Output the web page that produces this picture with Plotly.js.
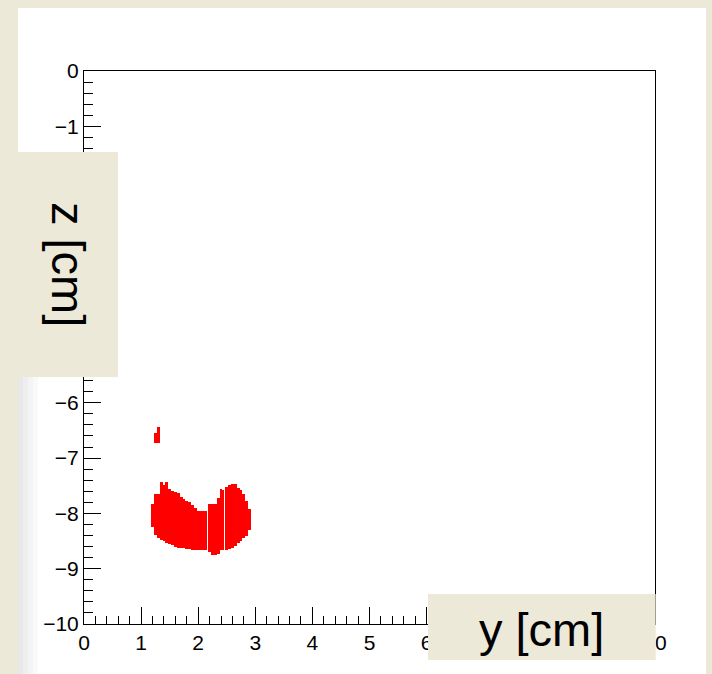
<!DOCTYPE html>
<html>
<head>
<meta charset="utf-8">
<script src="https://cdn.plot.ly/plotly-3.0.1.min.js"></script>
<style>html,body{margin:0;padding:0;background:#ECE9D8;}#plot{width:712px;height:674px;}</style>
</head>
<body>
<div id="plot"></div>
<script>
// 2D distribution (y, z) in cm : column bins of width 0.05 cm
var yBins = [1.20, 1.25, 1.30, 1.35, 1.40, 1.45, 1.50, 1.55, 1.60, 1.65, 1.70, 1.75,
             1.80, 1.85, 1.90, 1.95, 2.00, 2.05, 2.10, 2.15, 2.20, 2.25, 2.30, 2.35,
             2.40, 2.45, 2.50, 2.55, 2.60, 2.65, 2.70, 2.75, 2.80, 2.85, 2.90];
var zTop = [-7.83, -7.65, -7.65, -7.43, -7.49, -7.43, -7.56, -7.60, -7.61, -7.63, -7.70, -7.74,
            -7.78, -7.79, -7.85, -7.90, -7.96, -7.96, -7.96, -7.96, -7.83, -7.83, -7.83, -7.72,
            -7.56, -7.58, -7.52, -7.49, -7.47, -7.47, -7.54, -7.58, -7.65, -7.78, -7.92];
var zBottom = [-8.25, -8.39, -8.45, -8.48, -8.50, -8.54, -8.55, -8.57, -8.61, -8.63, -8.63, -8.63,
               -8.64, -8.64, -8.66, -8.66, -8.66, -8.66, -8.66, -8.66, -8.70, -8.75, -8.75, -8.73,
               -8.66, -8.66, -8.66, -8.64, -8.63, -8.59, -8.54, -8.50, -8.45, -8.41, -8.30];
// small isolated cluster
var spotY = [1.25, 1.30];
var spotTop = [-6.55, -6.44];
var spotBottom = [-6.73, -6.73];
// bins followed by a thin white seam
var seamAfter = [2.15, 2.45];

var xTicks = [0, 1, 2, 3, 4, 5, 6, 7, 8, 9, 10];
var zTicks = [0, -1, -2, -3, -4, -5, -6, -7, -8, -9, -10];

var BEIGE = '#ECE9D8';
var FONT = "'Liberation Sans', Arial, Helvetica, sans-serif";
var binW = 0.05;

function colTrace(xs, tops, bots, widths) {
  return {
    type: 'bar',
    x: xs,
    base: bots,
    y: tops.map(function (t, i) { return t - bots[i]; }),
    width: widths,
    offset: -binW / 2,
    marker: { color: '#ff0000', line: { width: 0 } },
    hoverinfo: 'skip',
    showlegend: false
  };
}

var mainWidths = yBins.map(function (v) {
  return seamAfter.some(function (s) { return Math.abs(s - v) < 1e-6; }) ? binW - 0.018 : binW;
});
var spotWidths = spotY.map(function () { return binW; });

var data = [
  colTrace(yBins, zTop, zBottom, mainWidths),
  colTrace(spotY, spotTop, spotBottom, spotWidths)
];

var axisCommon = {
  showgrid: false,
  zeroline: false,
  showline: true,
  linecolor: '#000',
  linewidth: 1,
  mirror: true,
  ticks: 'inside',
  tickcolor: '#000',
  tickwidth: 1,
  tickmode: 'array',
  tickfont: { family: FONT, size: 21, color: '#000' },
  fixedrange: true
};

var layout = {
  width: 712,
  height: 674,
  margin: { l: 84, r: 57, t: 71, b: 50, pad: 0 },
  paper_bgcolor: BEIGE,
  plot_bgcolor: 'rgba(0,0,0,0)',
  barmode: 'overlay',
  bargap: 0,
  showlegend: false,
  xaxis: Object.assign({}, axisCommon, {
    range: [0, 10],
    tickvals: xTicks,
    ticktext: xTicks.map(String),
    ticklen: 17,
    minor: { ticks: 'inside', dtick: 0.2, tick0: 0, ticklen: 8, tickcolor: '#000', tickwidth: 1, showgrid: false }
  }),
  yaxis: Object.assign({}, axisCommon, {
    range: [-10, 0],
    tickvals: zTicks,
    ticklen: 17,
    minor: { ticks: 'inside', dtick: 0.2, tick0: 0, ticklen: 9, tickcolor: '#000', tickwidth: 1, showgrid: false }
  }),
  shapes: [
    // white canvas
    { type: 'rect', xref: 'paper', yref: 'paper', x0: -0.1156, x1: 1.0893, y0: -0.12, y1: 1.1139,
      fillcolor: '#ffffff', line: { width: 0 }, layer: 'below' },
    // soft shading at lower left edge of canvas
    { type: 'rect', xref: 'paper', yref: 'paper', x0: -0.1156, x1: -0.1068, y0: -0.12, y1: 0.4466,
      fillcolor: '#e8e8e8', line: { width: 0 }, layer: 'below' },
    { type: 'rect', xref: 'paper', yref: 'paper', x0: -0.1068, x1: -0.0981, y0: -0.12, y1: 0.4466,
      fillcolor: '#eeeeee', line: { width: 0 }, layer: 'below' },
    { type: 'rect', xref: 'paper', yref: 'paper', x0: -0.0981, x1: -0.0893, y0: -0.12, y1: 0.4466,
      fillcolor: '#f4f4f4', line: { width: 0 }, layer: 'below' },
    { type: 'rect', xref: 'paper', yref: 'paper', x0: -0.0893, x1: -0.0806, y0: -0.12, y1: 0.4466,
      fillcolor: '#f9f9f9', line: { width: 0 }, layer: 'below' },
    // title boxes
    { type: 'rect', xref: 'paper', yref: 'paper', x0: -0.1156, x1: 0.0595, y0: 0.4466, y1: 0.8535,
      fillcolor: BEIGE, line: { width: 0 }, layer: 'above' },
    { type: 'rect', xref: 'paper', yref: 'paper', x0: 0.6025, x1: 1.0012, y0: -0.0651, y1: 0.0543,
      fillcolor: BEIGE, line: { width: 0 }, layer: 'above' }
  ],
  annotations: [
    { xref: 'paper', yref: 'paper', x: -0.028, y: 0.651, text: 'z [cm]', textangle: 90,
      showarrow: false, xanchor: 'center', yanchor: 'middle',
      font: { family: FONT, size: 47, color: '#000' } },
    { xref: 'paper', yref: 'paper', x: 0.8004, y: -0.0108, text: 'y [cm]',
      showarrow: false, xanchor: 'center', yanchor: 'middle',
      font: { family: FONT, size: 47, color: '#000' } }
  ]
};

Plotly.newPlot('plot', data, layout, { staticPlot: true, displayModeBar: false });
</script>
</body>
</html>
